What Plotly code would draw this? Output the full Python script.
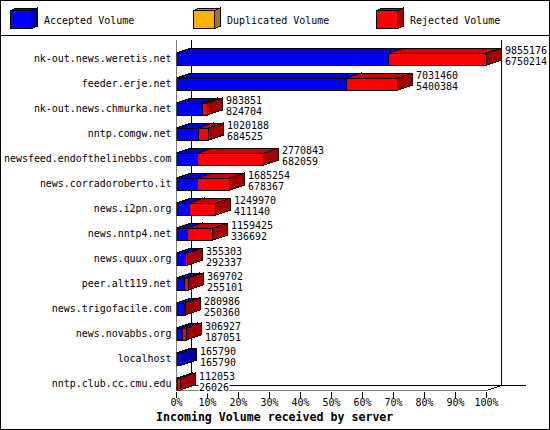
import plotly.graph_objects as go

hosts = ["nk-out.news.weretis.net", "feeder.erje.net", "nk-out.news.chmurka.net", "nntp.comgw.net",
         "newsfeed.endofthelinebbs.com", "news.corradoroberto.it", "news.i2pn.org", "news.nntp4.net",
         "news.quux.org", "peer.alt119.net", "news.trigofacile.com", "news.novabbs.org", "localhost",
         "nntp.club.cc.cmu.edu"]
total = [9855176, 7031460, 983851, 1020188, 2770843, 1685254, 1249970, 1159425,
         355303, 369702, 280986, 306927, 165790, 112053]
accepted = [6750214, 5400384, 824704, 684525, 682059, 678367, 411140, 336692,
            292337, 255101, 250360, 187051, 165790, 26026]
legend_names = ["Accepted Volume", "Duplicated Volume", "Rejected Volume"]
pct_ticks = list(range(0, 101, 10))

W, H = 550, 430
PX_PCT = 3.1
PX_ROW = 25
X0, Y0 = 176.5, 59
DX = 15 / PX_PCT          # depth in percent units
DY = 5 / PX_ROW           # depth in row units
HALF = 6 / PX_ROW         # half bar height in row units
MONO = "DejaVu Sans Mono"
scale = max(total)

BLUE = ("#0000ff", "#0000c8", "#0000a0")
ORANGE = ("#ffb000", "#d09000", "#a87800")
RED = ("#ff0000", "#c80000", "#a00000")


def polys():
    return {"front": ([], []), "top": ([], []), "side": ([], [])}


def add(p, key, xs, ys):
    p[key][0].extend(xs + [None])
    p[key][1].extend(ys + [None])


def seg(p, a, b, r):
    t, u = r - HALF, r + HALF
    add(p, "top", [a, a + DX, b + DX, b, a], [t, t - DY, t - DY, t, t])
    add(p, "side", [b, b + DX, b + DX, b, b], [t, t - DY, u - DY, u, t])
    add(p, "front", [a, b, b, a, a], [t, t, u, u, t])


blue, red = polys(), polys()
for r, (tv, av) in enumerate(zip(total, accepted)):
    a = av / scale * 100
    b = tv / scale * 100
    seg(blue, 0, a, r)
    if tv > av:
        seg(red, a, b, r)

fig = go.Figure()

# walls and floor
floor_back = 13.26 - DY
top_row = (40 - Y0) / PX_ROW
right_end = (526 - X0) / PX_PCT
wx = [0, 0, None, DX, DX, None, 100 + DX, 100 + DX, None, DX, right_end, None, 0, 100, None,
      100, 100 + DX, None, -DX, 0, DX]
wy = [top_row, 13.26, None, top_row, floor_back, None, top_row, floor_back, None, floor_back, floor_back, None,
      13.26, 13.26, None, 13.26, floor_back, None, 13.26 + DY, 13.26, floor_back]
fig.add_trace(go.Scatter(x=wx, y=wy, mode="lines", line=dict(color="black", width=1),
                         cliponaxis=False, hoverinfo="skip", showlegend=False))

for p, cols in ((blue, BLUE), (red, RED)):
    for key, col in (("top", cols[1]), ("side", cols[2]), ("front", cols[0])):
        fig.add_trace(go.Scatter(x=p[key][0], y=p[key][1], mode="lines", fill="toself", fillcolor=col,
                                 line=dict(color="black", width=1), cliponaxis=False,
                                 hoverinfo="skip", showlegend=False))

anns = []
for r, (tv, av) in enumerate(zip(total, accepted)):
    xe = tv / scale * 100 + DX
    for val, off in ((tv, -8), (av, 3)):
        anns.append(dict(x=xe, y=r, xref="x", yref="y", text=str(val), showarrow=False, xanchor="left",
                         yanchor="middle", xshift=2.5, yshift=-off, bgcolor="white", borderpad=0,
                         font=dict(family=MONO, size=10, color="black")))
anns.append(dict(x=274.5 / W, y=1 - 417 / H, xref="paper", yref="paper", text="<b>Incoming Volume received by server</b>",
                 showarrow=False, yanchor="middle", font=dict(family=MONO, size=11.6, color="black")))

# legend cubes
shapes = []


def cube(x, cols):
    y, w, h, dx, dy = 10.5, 21, 18, 6, 2.5
    faces = [
        (cols[1], [(x, y), (x + dx, y - dy), (x + w + dx, y - dy), (x + w, y)]),
        (cols[2], [(x + w, y), (x + w + dx, y - dy), (x + w + dx, y + h - dy), (x + w, y + h)]),
        (cols[0], [(x, y), (x + w, y), (x + w, y + h), (x, y + h)]),
    ]
    for col, pts in faces:
        path = "M " + " L ".join(f"{a / W},{1 - b / H}" for a, b in pts) + " Z"
        shapes.append(dict(type="path", xref="paper", yref="paper", path=path, fillcolor=col,
                           line=dict(color="black", width=1)))


for name, x, tx, cols in zip(legend_names, (10.5, 193.5, 376.5), (42, 225, 408), (BLUE, ORANGE, RED)):
    cube(x, cols)
    anns.append(dict(x=tx / W, y=1 - 20.5 / H, xref="paper", yref="paper", text=name, showarrow=False, xanchor="left",
                     yanchor="middle", font=dict(family=MONO, size=10, color="black")))

shapes.append(dict(type="rect", xref="paper", yref="paper", x0=0.5 / W, x1=549.5 / W, y0=0.5 / H, y1=429.5 / H,
                   line=dict(color="black", width=1)))
shapes.append(dict(type="line", xref="paper", yref="paper", x0=0, x1=1, y0=1 - 35.5 / H, y1=1 - 35.5 / H,
                   line=dict(color="black", width=1)))

fig.update_layout(
    width=W, height=H, autosize=False, margin=dict(l=0, r=0, t=0, b=0, pad=0, autoexpand=False),
    paper_bgcolor="white", plot_bgcolor="white",
    shapes=shapes, annotations=anns, showlegend=False,
    xaxis=dict(domain=[X0 / W, 530 / W], range=[0, (530 - X0) / PX_PCT], tickvals=pct_ticks, automargin=False,
               ticktext=[f"{v}%" for v in pct_ticks], ticks="outside", ticklen=6, tickwidth=1, tickcolor="black",
               ticklabelstandoff=-4, showgrid=False, zeroline=False, showline=False,
               tickfont=dict(family=MONO, size=10, color="black"), tickangle=0),
    yaxis=dict(domain=[1 - 390.5 / H, 1 - 38 / H], range=[13.26, (38 - Y0) / PX_ROW], tickvals=list(range(len(hosts))),
               ticktext=hosts, ticks="outside", ticklen=2, tickcolor="rgba(0,0,0,0)", automargin=False,
               showgrid=False, zeroline=False, showline=False,
               tickfont=dict(family=MONO, size=9.95, color="black")),
)

fig.write_html("out.html", config={"displayModeBar": False},
               post_script="document.body.style.margin='0';document.body.style.overflow='hidden';"
                           "var s=document.createElement('style');"
                           "s.textContent='svg path{shape-rendering:crispEdges}';document.head.appendChild(s);")
